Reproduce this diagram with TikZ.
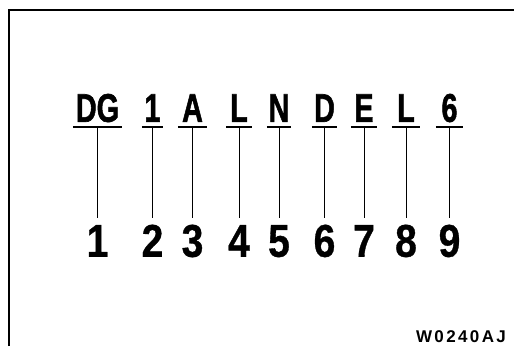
\documentclass[tikz,border=0pt]{standalone}
\usepackage{fontspec}
\setmainfont{Liberation Sans}
\newfontfamily\topfont[FakeBold=1.6]{Liberation Sans Bold}
\newfontfamily\numfont[FakeBold=0.8]{Liberation Sans Bold}
\newfontfamily\codefont[LetterSpace=14]{Liberation Sans Bold}
\tikzset{
  letterbox/.style={anchor=south, inner xsep=0pt, inner ysep=5pt, text height=29pt, text depth=0pt,
    font=\topfont\fontsize{40}{40}\selectfont},
  numbox/.style={anchor=south, inner xsep=0pt, inner ysep=6pt, text height=33pt, text depth=0pt,
    font=\numfont\fontsize{46}{46}\selectfont},
  uline/.style={line width=1.2pt},
  conn/.style={line width=1pt},
  frame/.style={line width=1.2pt}
}
\newcommand{\cx}[2]{\scalebox{#1}[1]{#2}}
\begin{document}
\begin{tikzpicture}[x=1pt,y=-1pt]
\useasboundingbox (0,0) rectangle (514,346);
\fill[white] (0,0) rectangle (514,346);
\draw[frame] (9,346) -- (9,10) -- (514,10);
\foreach \n/\t/\x/\w in {1/DG/97.5/49, 2/1/152.5/21, 3/A/192.5/29, 4/L/239/25, 5/N/279/24, 6/D/324.5/25, 7/E/364/26, 8/L/406/28, 9/6/449.5/27}{
  \node[letterbox, minimum width=\w pt] (t\n) at (\x,127) {\cx{0.72}{\t}};
  \draw[uline] (t\n.south west) -- (t\n.south east);
  \node[numbox] (b\n) at (\x,263) {\cx{0.85}{\n}};
  \draw[conn] (t\n.south) -- (b\n.north);
}
\node[font=\codefont\fontsize{17}{17}\selectfont, anchor=base] (code) at (461,342) {W0240AJ};
\end{tikzpicture}
\end{document}
